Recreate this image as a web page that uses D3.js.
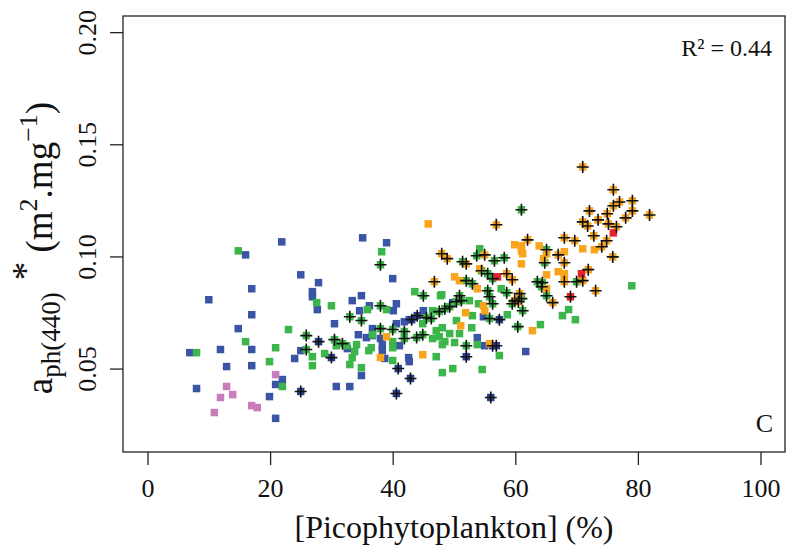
<!DOCTYPE html>
<html>
<head>
<meta charset="utf-8">
<script src="https://cdn.jsdelivr.net/npm/d3@7"></script>
<style>
  body { margin: 0; background: #fff; }
  svg text { font-family: "Liberation Serif", "Times New Roman", serif; fill: #111; }
</style>
</head>
<body>
<div id="chart"></div>
<script>
// ---- data (x = picophytoplankton %, y = aph(440)*) ----
var xTicks = [0, 20, 40, 60, 80, 100];
var yTicks = [0.05, 0.10, 0.15, 0.20];

var pink = [[20.9,0.0473],[12.9,0.0420],[13.9,0.0384],[11.9,0.0371],[17.0,0.0335],[17.9,0.0326],[10.9,0.0304]];

var blue = [[21.9,0.1065],[16.0,0.1007],[25.0,0.0918],[27.9,0.0883],[17.0,0.0856],[10.0,0.0807],[26.9,0.0843],
  [26.9,0.0820],[27.7,0.0763],[17.0,0.0740],[14.8,0.0678],[11.9,0.0585],[17.0,0.0585],[6.9,0.0571],[25.0,0.0580],
  [24.0,0.0545],[12.9,0.0509],[17.0,0.0513],[22.0,0.0451],[20.9,0.0429],[8.0,0.0411],[19.9,0.0375],[20.9,0.0278],
  [35.1,0.1083],[39.0,0.1061],[40.0,0.0901],[33.4,0.0803],[34.9,0.0825],[36.2,0.0780],[40.6,0.0789],[40.1,0.0758],
  [34.6,0.0758],[30.5,0.0700],[40.6,0.0700],[41.9,0.0709],[42.7,0.0718],[45.0,0.0758],[34.4,0.0651],[36.7,0.0678],
  [35.7,0.0638],[36.7,0.0647],[38.0,0.0634],[38.3,0.0607],[41.1,0.0602],[32.6,0.0589],[38.3,0.0580],[38.7,0.0545],
  [42.6,0.0549],[42.7,0.0531],[34.9,0.0469],[30.8,0.0420],[33.0,0.0420],[49.8,0.0794],[54.8,0.0731],[53.8,0.0638],
  [55.0,0.0602],[61.7,0.0576]];
var blueCross = [[27.9,0.0620],[25.0,0.0398],[43.1,0.0718],[44.0,0.0736],[30.0,0.0549],[40.9,0.0500],[42.9,0.0456],
  [40.6,0.0389],[56.3,0.0602],[56.9,0.0602],[52.0,0.0553],[56.0,0.0371],[57.4,0.0718]];

var green = [[14.8,0.1025],[27.6,0.0794],[23.0,0.0674],[16.0,0.0620],[20.9,0.0593],[8.0,0.0571],[26.9,0.0553],
  [26.9,0.0513],[28.9,0.0567],[19.9,0.0531],[22.0,0.0420],[38.2,0.1021],[43.6,0.0843],[30.0,0.0780],[35.9,0.0763],
  [39.0,0.0763],[44.9,0.0700],[36.7,0.0651],[40.0,0.0620],[40.0,0.0593],[30.8,0.0602],[32.5,0.0602],[34.1,0.0607],
  [33.8,0.0576],[33.4,0.0549],[36.5,0.0593],[36.1,0.0580],[40.0,0.0536],[33.0,0.0518],[34.9,0.0504],[54.2,0.1034],
  [48.0,0.0829],[57.7,0.0856],[47.8,0.0825],[52.5,0.0803],[54.0,0.0789],[46.5,0.0758],[53.0,0.0736],[58.7,0.0740],
  [50.4,0.0714],[48.1,0.0682],[47.1,0.0669],[47.6,0.0642],[46.5,0.0634],[49.3,0.0656],[50.9,0.0656],[52.9,0.0682],
  [48.5,0.0620],[50.1,0.0616],[48.1,0.0607],[53.8,0.0607],[57.4,0.0558],[47.1,0.0553],[49.8,0.0500],[48.1,0.0482],
  [54.6,0.0496],[68.7,0.0763],[67.7,0.0736],[69.8,0.0718],[64.1,0.0696],[79.0,0.0869]];
var greenCross = [[25.9,0.0647],[25.9,0.0585],[38.0,0.0963],[45.0,0.0825],[38.0,0.0780],[33.0,0.0731],[34.9,0.0714],
  [45.5,0.0727],[38.0,0.0678],[40.0,0.0674],[41.9,0.0665],[41.9,0.0634],[43.9,0.0638],[44.9,0.0651],[30.5,0.0629],
  [31.8,0.0611],[53.7,0.1003],[51.4,0.0976],[56.6,0.0981],[58.2,0.0994],[54.5,0.0936],[55.5,0.0923],[56.3,0.0901],
  [52.0,0.0892],[53.0,0.0878],[55.5,0.0847],[55.8,0.0820],[56.3,0.0789],[58.6,0.0838],[50.9,0.0825],[51.2,0.0803],
  [50.4,0.0798],[59.5,0.0789],[49.3,0.0776],[48.5,0.0767],[47.6,0.0754],[61.2,0.0758],[46.3,0.0723],[55.8,0.0723],
  [60.4,0.0687],[52.0,0.0602],[61.0,0.1208],[65.1,0.1030],[64.8,0.0972],[70.0,0.0887],[63.6,0.0887],[64.3,0.0865],
  [64.4,0.0883],[65.1,0.0825],[61.0,0.0812]];

var orange = [[45.8,0.1145],[39.0,0.0642],[38.0,0.0549],[44.9,0.0562],[59.9,0.1052],[61.0,0.1047],[61.2,0.1012],
  [61.0,0.0967],[54.2,0.0945],[50.1,0.0909],[50.9,0.0892],[53.8,0.0856],[54.8,0.0780],[55.0,0.0758],[51.9,0.0749],
  [51.1,0.0691],[55.8,0.0611],[71.0,0.1034],[72.9,0.1030],[63.9,0.1047],[61.0,0.1025],[64.6,0.0990],[65.1,0.1012],
  [68.0,0.1021],[67.0,0.0932],[65.1,0.0918],[68.0,0.0923],[68.0,0.0901],[65.1,0.0856],[62.8,0.0669]];
var orangeCross = [[48.0,0.1012],[48.9,0.0990],[55.0,0.1007],[52.0,0.0967],[58.6,0.0923],[59.5,0.0896],[46.8,0.0887],
  [59.9,0.0803],[60.5,0.0798],[60.7,0.0834],[56.9,0.1141],[62.0,0.1074],[68.0,0.1083],[69.7,0.1070],[67.0,0.1007],
  [68.0,0.0972],[71.9,0.0941],[68.0,0.0887],[71.0,0.0892],[73.1,0.0847],[66.1,0.0794],[71.0,0.1399],[76.0,0.1297],
  [71.0,0.1154],[71.8,0.1136],[73.5,0.1163],[75.0,0.1190],[75.2,0.1145],[76.5,0.1132],[78.0,0.1172],[79.1,0.1248],
  [79.1,0.1203],[77.0,0.1243],[76.0,0.1226],[72.1,0.1203],[72.8,0.1092],[74.1,0.1043],[74.9,0.1070],[75.9,0.0998],
  [81.9,0.1185]];

var red = [[57.1,0.0909],[76.0,0.1105],[70.8,0.0923]];
var redCross = [[69.0,0.0820]];

var series = [
  {pts: blue, color: '#3b55a6'}, {pts: blueCross, color: '#2a3f8c'},
  {pts: green, color: '#3cb54b'}, {pts: greenCross, color: '#3cb54b'},
  {pts: orange, color: '#f8a51d'}, {pts: orangeCross, color: '#f8a51d'},
  {pts: pink, color: '#c87cb9'},
  {pts: red, color: '#e5232b'}, {pts: redCross, color: '#e5232b'}
];
var crosses = blueCross.concat(greenCross, orangeCross, redCross);

// ---- layout ----
var W = 786, H = 548;
var box = {left: 123, right: 785, top: 16, bottom: 452};

var svg = d3.select('#chart').append('svg')
    .attr('width', W).attr('height', H);

var x = d3.scaleLinear().domain([-4, 104]).range([box.left, box.right]);
var y = d3.scaleLinear().domain([0.0128, 0.2072]).range([box.bottom, box.top]);

// points
var sq = 7.5;
series.forEach(function(s) {
  svg.append('g').selectAll('rect')
    .data(s.pts).enter().append('rect')
      .attr('x', function(d) { return x(d[0]) - sq/2; })
      .attr('y', function(d) { return y(d[1]) - sq/2; })
      .attr('width', sq).attr('height', sq)
      .attr('fill', s.color);
});

// "+" overlays
var cs = 6;
svg.append('g').selectAll('path')
  .data(crosses).enter().append('path')
    .attr('d', function(d) {
      var cx = x(d[0]), cy = y(d[1]);
      return 'M' + (cx-cs) + ',' + cy + 'H' + (cx+cs) + 'M' + cx + ',' + (cy-cs) + 'V' + (cy+cs);
    })
    .attr('stroke', '#111').attr('stroke-width', 1.6).attr('fill', 'none');

// box
svg.append('rect')
    .attr('x', box.left).attr('y', box.top)
    .attr('width', box.right - box.left).attr('height', box.bottom - box.top)
    .attr('fill', 'none').attr('stroke', '#222').attr('stroke-width', 1.3);

// x axis
var xAxis = svg.append('g')
    .attr('transform', 'translate(0,' + box.bottom + ')')
    .call(d3.axisBottom(x).tickValues(xTicks).tickSize(13).tickPadding(14));
xAxis.select('.domain').remove();
xAxis.selectAll('line').attr('stroke', '#222').attr('stroke-width', 1.3);
xAxis.selectAll('text').attr('font-size', 26).attr('fill', '#111');

// y axis (labels rotated, as in R)
var yAxis = svg.append('g')
    .attr('transform', 'translate(' + box.left + ',0)')
    .call(d3.axisLeft(y).tickValues(yTicks).tickFormat(d3.format('.2f')).tickSize(13));
yAxis.select('.domain').remove();
yAxis.selectAll('line').attr('stroke', '#222').attr('stroke-width', 1.3);
yAxis.selectAll('text')
    .attr('font-size', 26).attr('fill', '#111')
    .attr('x', null).attr('dy', null)
    .attr('text-anchor', 'middle')
    .attr('transform', 'translate(-27,0) rotate(-90)');

// axis titles
svg.append('text')
    .attr('x', (box.left + box.right) / 2).attr('y', 538)
    .attr('text-anchor', 'middle').attr('font-size', 32)
    .text('[Picophytoplankton] (%)');

var yt = svg.append('text')
    .attr('transform', 'translate(52,' + ((box.top + box.bottom) / 2 + 14) + ') rotate(-90)')
    .attr('text-anchor', 'middle').attr('font-size', 37);
yt.append('tspan').text('a');
yt.append('tspan').attr('dy', 8).attr('font-size', 27).text('ph(440)');
yt.append('tspan').attr('dy', -22).attr('dx', 12).text('*');
yt.append('tspan').attr('dy', 14).text(' (m');
yt.append('tspan').attr('dy', -15).attr('font-size', 26).text('2');
yt.append('tspan').attr('dy', 15).text('.mg');
yt.append('tspan').attr('dy', -15).attr('font-size', 26).text('\u22121');
yt.append('tspan').attr('dy', 15).text(')');

// annotations
svg.append('text')
    .attr('x', 772).attr('y', 56).attr('text-anchor', 'end').attr('font-size', 24)
    .text('R\u00b2 = 0.44');
svg.append('text')
    .attr('x', 773).attr('y', 432).attr('text-anchor', 'end').attr('font-size', 26)
    .text('C');
</script>
</body>
</html>
